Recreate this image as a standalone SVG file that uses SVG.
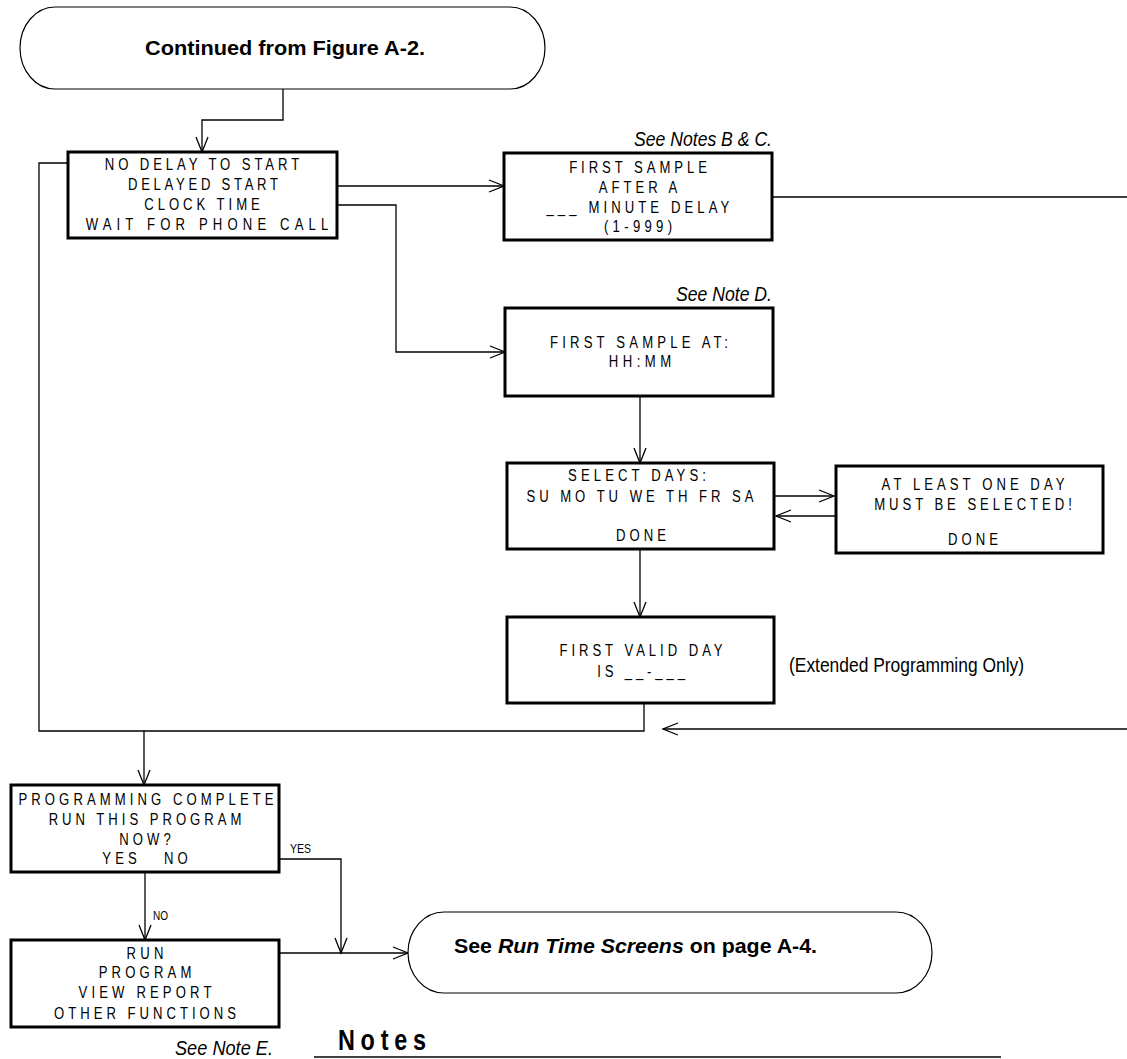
<svg xmlns="http://www.w3.org/2000/svg" width="1127" height="1059" viewBox="0 0 1127 1059">
<style>
.box{fill:#fff;stroke:#000;stroke-width:3}
.term{fill:#fff;stroke:#000;stroke-width:1.2}
.ln{fill:none;stroke:#000;stroke-width:1.3}
.arr{fill:none;stroke:#000;stroke-width:1.3;marker-end:url(#ah)}
.bt{font-family:"Liberation Sans",Arial,sans-serif;font-size:16px;text-anchor:middle;fill:#000;transform-box:fill-box;transform-origin:center;transform:scaleX(0.82)}
.lbl{font-family:"Liberation Sans",Arial,sans-serif;font-size:21px;font-style:italic;text-anchor:end;fill:#000}
.tt{font-family:"Liberation Sans",Arial,sans-serif;font-size:21px;font-weight:bold;fill:#000}
.sm{font-family:"Liberation Sans",Arial,sans-serif;font-size:12px;fill:#000}
.hd{font-family:"Liberation Sans",Arial,sans-serif;font-size:30px;font-weight:bold;text-anchor:middle;fill:#000;transform-box:fill-box;transform-origin:center;transform:scaleX(0.78)}
</style>
<defs>
<marker id="ah" viewBox="0 0 16 14" refX="15" refY="7" markerWidth="16" markerHeight="14" markerUnits="userSpaceOnUse" orient="auto" overflow="visible">
<path d="M0,1 L15,7 L0,13" fill="none" stroke="#000" stroke-width="1.3"/>
</marker>
</defs>
<rect width="1127" height="1059" fill="#fff"/>

<g id="connectors">
<path class="arr" d="M283,89 V120 H202 V152"/>
<path class="ln" d="M68,163 H39 V731 H644 V703"/>
<path class="arr" d="M144,731 V785"/>
<path class="arr" d="M337,186 H504"/>
<path class="arr" d="M337,205 H396 V352 H505"/>
<path class="ln" d="M772,197 H1127"/>
<path class="arr" d="M1127,729 H663"/>
<path class="arr" d="M640,396 V463"/>
<path class="arr" d="M775,496 H834"/>
<path class="arr" d="M836,516 H776"/>
<path class="arr" d="M640,549 V617"/>
<path class="arr" d="M145,872 V940"/>
<path class="arr" d="M279,859 H341 V953"/>
<path class="arr" d="M279,953 H408"/>
</g>

<g id="start">
<path class="term" d="M55,7 H510 A35,41 0 0 1 510,89 H55 A35,41 0 0 1 55,7 Z"/>
<text class="tt" x="285" y="55" text-anchor="middle" textLength="280" lengthAdjust="spacingAndGlyphs">Continued from Figure A-2.</text>
</g>

<g id="start-mode">
<rect class="box" x="68" y="152" width="269" height="86"/>
<text class="bt" x="202" y="170" textLength="237" lengthAdjust="spacing">NO DELAY TO START</text>
<text class="bt" x="203" y="190" textLength="183" lengthAdjust="spacing">DELAYED START</text>
<text class="bt" x="202" y="210" textLength="141" lengthAdjust="spacing">CLOCK TIME</text>
<text class="bt" x="207" y="230" textLength="296" lengthAdjust="spacing">WAIT FOR PHONE CALL</text>
</g>

<g id="first-sample-delay">
<text class="lbl" x="772" y="146" textLength="138" lengthAdjust="spacingAndGlyphs">See Notes B &amp; C.</text>
<rect class="box" x="504" y="153" width="268" height="87"/>
<text class="bt" x="638" y="173" textLength="168" lengthAdjust="spacing">FIRST SAMPLE</text>
<text class="bt" x="638" y="193" textLength="96" lengthAdjust="spacing">AFTER A</text>
<text class="bt" x="638" y="213" textLength="223" lengthAdjust="spacing">___ MINUTE DELAY</text>
<text class="bt" x="638" y="232" textLength="83" lengthAdjust="spacing">(1-999)</text>
</g>

<g id="first-sample-at">
<text class="lbl" x="772" y="301" textLength="96" lengthAdjust="spacingAndGlyphs">See Note D.</text>
<rect class="box" x="505" y="308" width="268" height="88"/>
<text class="bt" x="639" y="348" textLength="217" lengthAdjust="spacing">FIRST SAMPLE AT:</text>
<text class="bt" x="640" y="367" textLength="76" lengthAdjust="spacing">HH:MM</text>
</g>

<g id="select-days">
<rect class="box" x="507" y="463" width="267" height="86"/>
<text class="bt" x="637" y="481" textLength="168" lengthAdjust="spacing">SELECT DAYS:</text>
<text class="bt" x="640" y="502" textLength="277" lengthAdjust="spacing">SU MO TU WE TH FR SA</text>
<text class="bt" x="641" y="541" textLength="61" lengthAdjust="spacing">DONE</text>
</g>

<g id="at-least-one-day">
<rect class="box" x="836" y="466" width="267" height="87"/>
<text class="bt" x="973" y="490" textLength="223" lengthAdjust="spacing">AT LEAST ONE DAY</text>
<text class="bt" x="973" y="510" textLength="241" lengthAdjust="spacing">MUST BE SELECTED!</text>
<text class="bt" x="973" y="545" textLength="61" lengthAdjust="spacing">DONE</text>
</g>

<g id="first-valid-day">
<rect class="box" x="507" y="617" width="267" height="86"/>
<text class="bt" x="641" y="656" textLength="199" lengthAdjust="spacing">FIRST VALID DAY</text>
<text class="bt" x="641" y="677" textLength="107" lengthAdjust="spacing">IS __-___</text>
<text x="789" y="672" font-family="Liberation Sans, Arial, sans-serif" font-size="20" textLength="235" lengthAdjust="spacingAndGlyphs">(Extended Programming Only)</text>
</g>

<g id="programming-complete">
<rect class="box" x="11" y="785" width="268" height="87"/>
<text class="bt" x="146" y="805" textLength="311" lengthAdjust="spacing">PROGRAMMING COMPLETE</text>
<text class="bt" x="145" y="825" textLength="235" lengthAdjust="spacing">RUN THIS PROGRAM</text>
<text class="bt" x="145" y="845" textLength="63" lengthAdjust="spacing">NOW?</text>
<text class="bt" x="145" y="864" textLength="104" lengthAdjust="spacing" xml:space="preserve">YES   NO</text>
<text class="sm" x="290" y="853" textLength="21" lengthAdjust="spacingAndGlyphs">YES</text>
<text class="sm" x="153" y="920" textLength="15" lengthAdjust="spacingAndGlyphs">NO</text>
</g>

<g id="run-menu">
<rect class="box" x="11" y="940" width="268" height="87"/>
<text class="bt" x="145" y="959" textLength="45" lengthAdjust="spacing">RUN</text>
<text class="bt" x="145" y="978" textLength="113" lengthAdjust="spacing">PROGRAM</text>
<text class="bt" x="145" y="998" textLength="162" lengthAdjust="spacing">VIEW REPORT</text>
<text class="bt" x="145" y="1019" textLength="222" lengthAdjust="spacing">OTHER FUNCTIONS</text>
<text class="lbl" x="273" y="1055" textLength="98" lengthAdjust="spacingAndGlyphs">See Note E.</text>
</g>

<g id="run-time-screens">
<path class="term" d="M444,912 H896 A36,40.5 0 0 1 896,993 H444 A36,40.5 0 0 1 444,912 Z"/>
<text class="tt" x="454" y="953" textLength="363" lengthAdjust="spacingAndGlyphs">See <tspan font-style="italic">Run Time Screens</tspan> on page A-4.</text>
</g>

<g id="notes">
<text class="hd" x="382" y="1050" textLength="113" lengthAdjust="spacing">Notes</text>
<path class="ln" d="M314,1057 H1001" stroke-width="1"/>
</g>
</svg>
